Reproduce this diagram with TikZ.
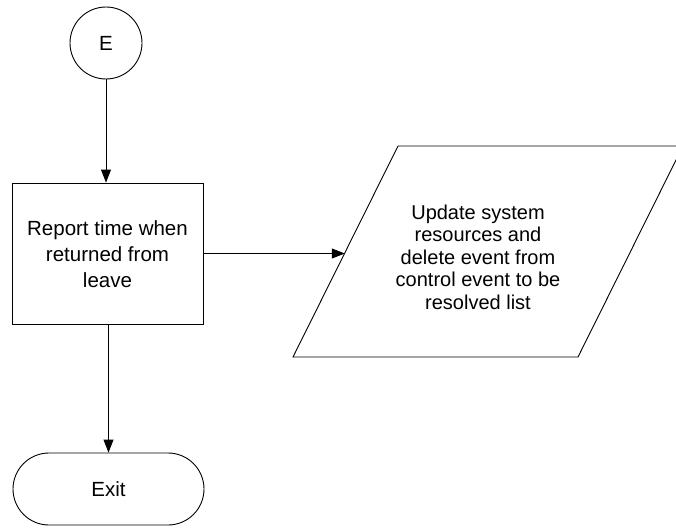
\documentclass[tikz,border=0pt]{standalone}
\usepackage{fontspec}
\setmainfont{Liberation Sans}
\usetikzlibrary{arrows.meta,shapes.geometric,calc}
\begin{document}
\begin{tikzpicture}[x=1pt,y=-1pt,
  line width=0.9pt,
  lbl/.style={font=\fontsize{20.5}{26}\selectfont, align=center},
  flow/.style={-{Triangle[length=13pt,width=10pt]}},
]
\useasboundingbox (0,0) rectangle (676,527);
\node[draw, circle, minimum size=72pt, inner sep=0pt, lbl] (E) at (106,43) {E};
\node[draw, minimum width=191pt, minimum height=141pt, inner sep=0pt] (R) at (107.5,253.5) {};
\node[lbl] at (107.5,254) {Report time when\\returned from\\leave};
\coordinate (p1) at (293,357);
\coordinate (p2) at (578,357);
\coordinate (p3) at (683,146);
\coordinate (p4) at (398,146);
\draw (p1) -- (p2) -- (p3) -- (p4) -- cycle;
\coordinate (P) at ($(p4)!0.507!(p1)$);
\node[font=\fontsize{20}{22.5}\selectfont, align=center] (Ptext) at (478,257) {Update system\\resources and\\delete event from\\control event to be\\resolved list};
\node[draw, rounded corners=36pt, minimum width=191pt, minimum height=72pt, inner sep=0pt, lbl] (X) at (108.5,489) {Exit};
\draw[flow] (E.south) -- (E.south |- R.north);
\draw[flow] (R.south -| X.north) -- (X.north);
\draw[flow] (R.east) -- (R.east -| P);
\end{tikzpicture}
\end{document}
